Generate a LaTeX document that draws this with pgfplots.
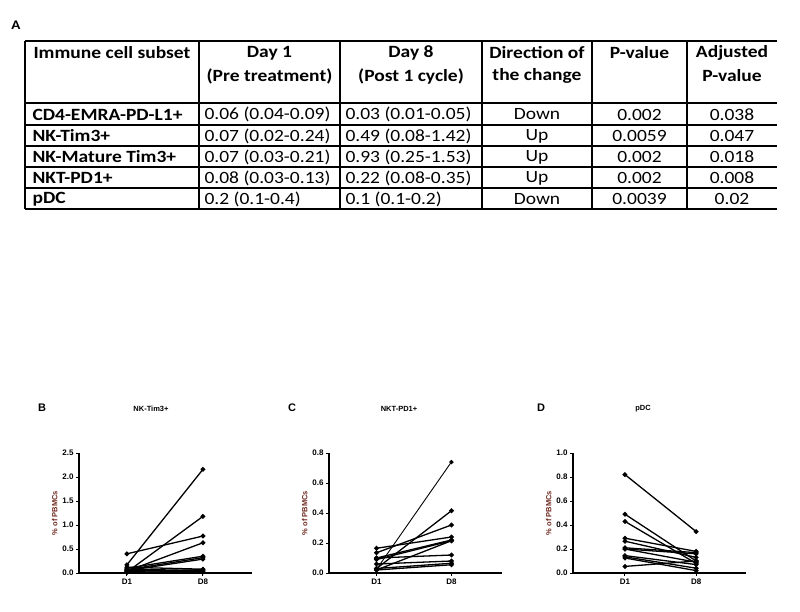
\documentclass[border=0pt]{standalone}
\usepackage{pgfplots}
\pgfplotsset{compat=1.18}
\usepackage{fontspec}
\setmainfont{Carlito}
\newfontfamily\arial{Liberation Sans}
\definecolor{ylab}{RGB}{110,40,30}
\newcommand\sq[1]{\scalebox{1}[0.88]{#1}}

\pgfplotsset{
  pl/.style={black, solid, line width=1.3pt, mark=*, mark size=1.7pt, mark options={solid, fill=black}},
  prism/.style={
    width=173pt, height=120pt, scale only axis,
    axis x line*=bottom, axis y line*=left,
    axis line style={line width=1.2pt},
    xtick={1,2}, xticklabels={D1,D8},
    tick style={black, line width=1pt},
    tick align=outside, major tick length=3pt,
    ymin=0, enlarge y limits=false,
    /pgf/number format/assume math mode=true,
    /pgf/number format/fixed, /pgf/number format/fixed zerofill,
    /pgf/number format/precision=1,
    ticklabel style={font=\arial\bfseries\fontsize{8}{9}\selectfont},
    yticklabel style={xshift=1pt},
    xticklabel style={yshift=1pt},
    ylabel={\% of PBMCs},
    ylabel style={font=\arial\bfseries\fontsize{7.5}{8}\selectfont, text=ylab, yshift=-2pt},
    clip=false,
  }
}

\begin{document}
\begin{tikzpicture}
\begin{scope}[x=1pt, y=-1pt]
\path[use as bounding box] (0,0) rectangle (800,611);
\node[font=\bfseries\fontsize{15}{18}\selectfont] at (16,25) {\sq{A}};
% table grid
\begin{scope}[line width=1.6pt]
\foreach \r in {41,103,125,146,167,188,209} \draw (25,\r) -- (777,\r);
\foreach \c in {25,199,340,482,592,687} \draw (\c,41) -- (\c,209);
\end{scope}
\begin{scope}[font=\fontsize{19.5}{22}\selectfont]
% header
\node[anchor=west, font=\bfseries\fontsize{19.5}{22}\selectfont] at (30,53) {\sq{Immune cell subset}};
\foreach \x/\a/\b in {269.5/Day 1/(Pre treatment), 411/Day 8/(Post 1 cycle), 537/Direction of/the change, 639.5/P-value/, 732/Adjusted/P-value}
  {\node[font=\bfseries\fontsize{19.5}{22}\selectfont] at (\x,53) {\sq{\a}};
   \node[font=\bfseries\fontsize{19.5}{22}\selectfont] at (\x,76) {\sq{\b}};}
% body
\foreach \y/\n/\da/\db/\dir/\p/\q in {
  114.5/CD4-EMRA-PD-L1+/0.06 (0.04-0.09)/0.03 (0.01-0.05)/Down/0.002/0.038,
  136/NK-Tim3+/0.07 (0.02-0.24)/0.49 (0.08-1.42)/Up/0.0059/0.047,
  157/NK-Mature Tim3+/0.07 (0.03-0.21)/0.93 (0.25-1.53)/Up/0.002/0.018,
  178/NKT-PD1+/0.08 (0.03-0.13)/0.22 (0.08-0.35)/Up/0.002/0.008,
  199/pDC/0.2 (0.1-0.4)/0.1 (0.1-0.2)/Down/0.0039/0.02}
  {\node[anchor=west, font=\bfseries\fontsize{19.5}{22}\selectfont] at (29,\y) {\sq{\n}};
   \node[anchor=west] at (201,\y) {\sq{\da}};
   \node[anchor=west] at (342,\y) {\sq{\db}};
   \node at (537,\y) {\sq{\dir}};
   \node at (639.5,\y) {\sq{\p}};
   \node at (732,\y) {\sq{\q}};}
\end{scope}
\begin{scope}[font=\arial\bfseries\fontsize{11}{13}\selectfont]
\node at (42,408) {B};
\node at (292,408) {C};
\node at (541,408) {D};
\end{scope}
\begin{scope}[font=\arial\bfseries\fontsize{7.5}{8}\selectfont]
\node at (151,409) {NK-Tim3+};
\node at (399,409) {NKT-PD1+};
\node at (643,409) {pDC};
\end{scope}
\end{scope}

% panel B
\begin{axis}[prism, at={(79pt,-573pt)}, anchor=origin,
  xmin=0.37, xmax=2.645, ymax=2.5, ytick={0,0.5,...,2.5}]
\addplot[pl] coordinates {(1,0.17) (2,2.16)};
\addplot[pl] coordinates {(1,0.40) (2,0.77)};
\addplot[pl] coordinates {(1,0.02) (2,1.18)};
\addplot[pl] coordinates {(1,0.04) (2,0.63)};
\addplot[pl] coordinates {(1,0.10) (2,0.35)};
\addplot[pl] coordinates {(1,0.07) (2,0.32)};
\addplot[pl] coordinates {(1,0.05) (2,0.29)};
\addplot[pl] coordinates {(1,0.12) (2,0.08)};
\addplot[pl] coordinates {(1,0.03) (2,0.07)};
\addplot[pl] coordinates {(1,0.08) (2,0.05)};
\addplot[pl] coordinates {(1,0.01) (2,0.04)};
\addplot[pl] coordinates {(1,0.06) (2,0.02)};
\end{axis}

% panel C
\begin{axis}[prism, at={(329pt,-573pt)}, anchor=origin,
  xmin=0.365, xmax=2.676, ymax=0.8, ytick={0,0.2,...,0.8}]
\addplot[pl, line width=0.9pt] coordinates {(1,0.025) (2,0.74)};
\addplot[pl] coordinates {(1,0.03) (2,0.415)};
\addplot[pl] coordinates {(1,0.135) (2,0.32)};
\addplot[pl] coordinates {(1,0.165) (2,0.24)};
\addplot[pl] coordinates {(1,0.10) (2,0.22)};
\addplot[pl] coordinates {(1,0.02) (2,0.215)};
\addplot[pl] coordinates {(1,0.10) (2,0.12)};
\addplot[pl] coordinates {(1,0.06) (2,0.08)};
\addplot[pl] coordinates {(1,0.03) (2,0.065)};
\addplot[pl] coordinates {(1,0.02) (2,0.055)};
\addplot[pl] coordinates {(1,0.09) (2,0.215)};
\end{axis}

% panel D
\begin{axis}[prism, at={(573pt,-573pt)}, anchor=origin,
  xmin=0.27, xmax=2.70, ymax=1.0, ytick={0,0.2,...,1.0}]
\addplot[pl] coordinates {(1,0.82) (2,0.345)};
\addplot[pl] coordinates {(1,0.49) (2,0.10)};
\addplot[pl] coordinates {(1,0.43) (2,0.08)};
\addplot[pl] coordinates {(1,0.29) (2,0.18)};
\addplot[pl] coordinates {(1,0.265) (2,0.13)};
\addplot[pl] coordinates {(1,0.21) (2,0.17)};
\addplot[pl] coordinates {(1,0.20) (2,0.16)};
\addplot[pl] coordinates {(1,0.20) (2,0.09)};
\addplot[pl] coordinates {(1,0.145) (2,0.07)};
\addplot[pl] coordinates {(1,0.135) (2,0.04)};
\addplot[pl] coordinates {(1,0.125) (2,0.02)};
\addplot[pl] coordinates {(1,0.055) (2,0.10)};
\end{axis}
\end{tikzpicture}
\end{document}
